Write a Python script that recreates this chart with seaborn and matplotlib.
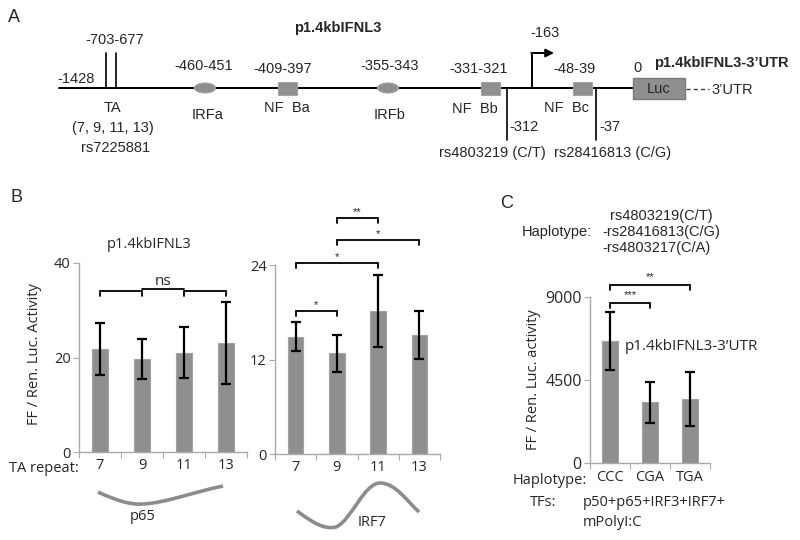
import numpy as np
import pandas as pd
import matplotlib
matplotlib.use("Agg")
import matplotlib.pyplot as plt
import seaborn as sns
from matplotlib.patches import Rectangle, Ellipse, PathPatch
from matplotlib.path import Path

# ---------------- data ----------------
ta_repeats = ["7", "9", "11", "13"]
p65_mean = [21.8, 19.7, 21.0, 23.1]
p65_err = [5.5, 4.2, 5.4, 8.7]
irf7_mean = [14.9, 12.8, 18.2, 15.1]
irf7_err = [1.85, 2.35, 4.55, 3.05]
haplotypes = ["CCC", "CGA", "TGA"]
hap_mean = [6610, 3300, 3470]
hap_err = [1570, 1110, 1490]

# significance brackets: (i, j, height, label)
p65_sig = [(0, 1, 34.1, ""), (2, 3, 34.1, ""), (1, 2, 34.5, "ns")]
irf7_sig = [(0, 1, 18.2, "*"), (0, 2, 24.3, "*"), (1, 3, 27.2, "*"), (1, 2, 30.0, "**")]
hap_sig = [(0, 1, 8690, "***"), (0, 2, 9670, "**")]

sns.set_theme(style="white")
plt.rcParams['font.family'] = ['Open Sans', 'DejaVu Sans']
ARIAL = ['Liberation Sans', 'DejaVu Sans']

W, H = 800, 540
fig = plt.figure(figsize=(8, 5.4), dpi=100)
fig.patch.set_facecolor("white")

ov = fig.add_axes([0, 0, 1, 1])
ov.set_xlim(0, W)
ov.set_ylim(H, 0)
ov.axis("off")

BAR = "#8f8f8f"
SPINE = "#a9a9a9"


def px_axes(x0, x1, ytop, ybot):
    ax = fig.add_axes([x0 / W, 1 - ybot / H, (x1 - x0) / W, (ybot - ytop) / H])
    ax.patch.set_alpha(0)
    return ax


def bars(ax, cats, means, errs, ymax, yticks, ticklabels, yfs=10.5, xfs=10.5, xpad=4):
    df = pd.DataFrame({"cat": cats, "val": means})
    sns.barplot(data=df, x="cat", y="val", ax=ax, color=BAR, width=0.38,
                edgecolor="#a3a3a3", linewidth=0.8, saturation=1, errorbar=None)
    ax.errorbar(np.arange(len(cats)), means, yerr=errs, fmt="none", ecolor="black",
                elinewidth=1.6, capsize=3.5, capthick=1.6, zorder=5)
    n = len(cats)
    ax.set_xlim(-0.5, n - 0.5)
    ax.set_ylim(0, ymax)
    ax.set_yticks(yticks)
    ax.set_yticklabels([str(t) for t in yticks], fontsize=yfs)
    ax.set_xticks(np.arange(n + 1) - 0.5)
    ax.set_xticklabels([])
    ax.set_xticks(np.arange(n), minor=True)
    ax.set_xticklabels(ticklabels, minor=True, fontsize=xfs)
    ax.tick_params(axis="x", which="major", length=4, width=0.8, color=SPINE, direction="out", bottom=True)
    ax.tick_params(axis="x", which="minor", length=0, pad=xpad, bottom=True)
    ax.tick_params(axis="y", length=4, width=0.8, color=SPINE, direction="out", pad=2, left=True)
    for s in ["top", "right"]:
        ax.spines[s].set_visible(False)
    for s in ["left", "bottom"]:
        ax.spines[s].set_color(SPINE)
        ax.spines[s].set_linewidth(1.0)
    ax.set_xlabel("")
    ax.set_ylabel("")


def brackets(ax, sig, drop, txt_off, fs=9):
    for i, j, h, lab in sig:
        ax.plot([i, i, j, j], [h - drop, h, h, h - drop], color="black", lw=1.3,
                clip_on=False, solid_joinstyle="miter")
        if lab:
            ax.text((i + j) / 2, h + txt_off, lab, ha="center", va="center",
                    fontsize=fs, clip_on=False, family=ARIAL)


# ---------------- Panel B ----------------
axL = px_axes(79, 247, 263, 452)
bars(axL, ta_repeats, p65_mean, p65_err, 40, [0, 20, 40], ta_repeats)
axL.set_ylabel("FF / Ren. Luc. Activity", fontsize=10.5, va="center")
axL.yaxis.set_label_coords(-0.262, 0.52)
brackets(axL, p65_sig[:2], 1.0, 0, fs=10)
i, j, h, lab = p65_sig[2]
axL.plot([i, j], [h, h], color="black", lw=1.3, clip_on=False)
axL.text((i + j) / 2, h + 1.6, lab, ha="center", va="center", fontsize=11, clip_on=False)

axR = px_axes(275, 440, 265, 454)
bars(axR, ta_repeats, irf7_mean, irf7_err, 24, [0, 12, 24], ta_repeats)
brackets(axR, irf7_sig, 0.65, 0.75, fs=8)

# ---------------- Panel C ----------------
axC = px_axes(590, 710, 297, 463)
bars(axC, haplotypes, hap_mean, hap_err, 9000, [0, 4500, 9000], haplotypes,
     yfs=11.5, xfs=10.5, xpad=5)
axC.set_ylabel("FF / Ren. Luc. activity", fontsize=10.5, va="center")
axC.yaxis.set_label_coords(-0.47, 0.5)
brackets(axC, hap_sig, 270, 400, fs=8)

# ---------------- Overlay text (B, C) ----------------
ov.text(17, 197, "B", fontsize=13, ha="center", va="center", family=ARIAL)
ov.text(507, 203, "C", fontsize=13, ha="center", va="center", family=ARIAL)
ov.text(149, 245, "p1.4kbIFNL3", fontsize=10.5, ha="center", va="center")
ov.text(79, 469, "TA repeat:", fontsize=10.5, ha="right", va="center")
ov.text(143, 517, "p65", fontsize=10.5, ha="center", va="center")
ov.text(372, 523, "IRF7", fontsize=10.5, ha="center", va="center")

ov.text(522, 232, "Haplotype:", fontsize=10.5, ha="left", va="center", family=ARIAL)
ov.text(610, 216, "rs4803219(C/T)", fontsize=10.5, ha="left", va="center", family=ARIAL)
ov.text(602, 232, "-rs28416813(C/G)", fontsize=10.5, ha="left", va="center", family=ARIAL)
ov.text(602, 248, "-rs4803217(C/A)", fontsize=10.5, ha="left", va="center", family=ARIAL)
ov.text(625, 346, "p1.4kbIFNL3-3\u2019UTR", fontsize=11, ha="left", va="center")
ov.text(587, 480, "Haplotype:", fontsize=10.5, ha="right", va="center")
ov.text(543, 503, "TFs:", fontsize=10.5, ha="center", va="center")
ov.text(583, 503, "p50+p65+IRF3+IRF7+", fontsize=10.5, ha="left", va="center")
ov.text(583, 523, "mPolyI:C", fontsize=10.5, ha="left", va="center")

# decorative curves under panel B
curve_col = "#8c8c8c"
p65_path = Path([(98, 492), (115, 500), (130, 505), (143, 504),
                 (165, 503), (190, 493), (223, 486)],
                [Path.MOVETO, Path.CURVE4, Path.CURVE4, Path.CURVE4,
                 Path.CURVE4, Path.CURVE4, Path.CURVE4])
ov.add_patch(PathPatch(p65_path, fill=False, lw=2.6, edgecolor=curve_col, capstyle="butt"))
irf_path = Path([(297, 511), (312, 522), (324, 530), (336, 527),
                 (352, 520), (364, 482), (381, 483),
                 (396, 484), (406, 500), (419, 512)],
                [Path.MOVETO, Path.CURVE4, Path.CURVE4, Path.CURVE4,
                 Path.CURVE4, Path.CURVE4, Path.CURVE4,
                 Path.CURVE4, Path.CURVE4, Path.CURVE4])
ov.add_patch(PathPatch(irf_path, fill=False, lw=2.6, edgecolor=curve_col, capstyle="butt"))

# ---------------- Panel A (promoter diagram) ----------------
fsA = 10.5
ov.text(14, 17, "A", fontsize=13, ha="center", va="center", family=ARIAL)
ov.text(338, 28, "p1.4kbIFNL3", fontsize=10.5, fontweight="bold", ha="center", va="center", family=ARIAL)
ov.text(721, 63, "p1.4kbIFNL3-3\u2019UTR", fontsize=10.5, fontweight="bold", ha="center", va="center", family=ARIAL)

ov.plot([59, 633], [88, 88], color="black", lw=1.4, zorder=2)
for xx in (106, 116):
    ov.plot([xx, xx], [53, 88], color="black", lw=1.2, zorder=2)
for xx in (507, 596):
    ov.plot([xx, xx], [88, 140], color="black", lw=1.2, zorder=2)
ov.plot([532, 532], [88, 53], color="black", lw=1.4, zorder=2)
ov.annotate("", xy=(554, 53), xytext=(531.3, 53),
            arrowprops=dict(arrowstyle="-|>", lw=1.4, color="black", mutation_scale=12,
                            shrinkA=0, shrinkB=0))

box_fc = "#8f8f8f"
box_ec = "#a3a3a3"
for cx in (205, 388):
    ov.add_patch(Ellipse((cx, 88), 21, 10, facecolor=box_fc, edgecolor=box_ec, lw=0.8, zorder=3))
for x0 in (278, 481, 573):
    ov.add_patch(Rectangle((x0, 82), 19, 13, facecolor=box_fc, edgecolor=box_ec, lw=0.8, zorder=3))
ov.add_patch(Rectangle((633, 78), 52, 21, facecolor=box_fc, edgecolor="#7a7a7a", lw=1.0, zorder=3))
ov.text(659, 89, "Luc", fontsize=fsA, ha="center", va="center", family=ARIAL, zorder=4)
ov.plot([686, 709], [89, 89], color="#444444", lw=1.0, ls=(0, (3, 2.2)))
ov.text(711, 90, "3\u2019UTR", fontsize=fsA, ha="left", va="center", family=ARIAL)

a_texts = [
    (76, 79, "-1428"), (115, 40, "-703-677"), (204, 66, "-460-451"),
    (283, 69, "-409-397"), (390, 66, "-355-343"), (479, 69, "-331-321"),
    (545, 33, "-163"), (575, 69, "-48-39"), (637, 68, "0"),
    (112, 108, "TA"), (113, 128, "(7, 9, 11, 13)"), (116, 148, "rs7225881"),
    (208, 115, "IRFa"), (287, 108, "NF  Ba"), (390, 115, "IRFb"),
    (475, 109, "NF  Bb"), (566, 108, "NF  Bc"),
    (492, 153, "rs4803219 (C/T)"), (613, 153, "rs28416813 (C/G)"),
]
for x, y, s in a_texts:
    ov.text(x, y, s, fontsize=fsA, ha="center", va="center", family=ARIAL)
ov.text(509, 127, "-312", fontsize=fsA, ha="left", va="center", family=ARIAL)
ov.text(599, 127, "-37", fontsize=fsA, ha="left", va="center", family=ARIAL)

fig.savefig("out.png", dpi=100, facecolor="white")
